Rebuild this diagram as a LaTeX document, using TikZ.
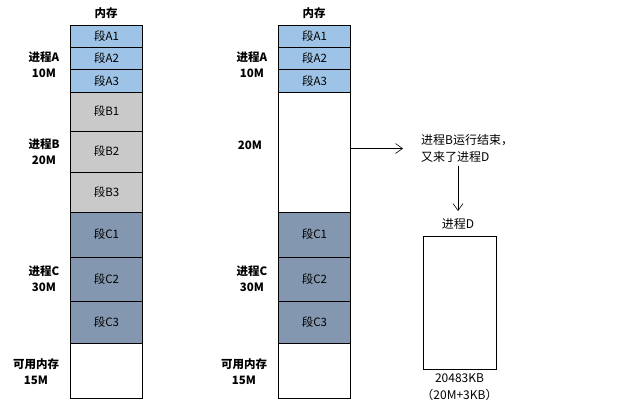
\documentclass[tikz,border=0pt]{standalone}
\usepackage{fontspec}
\setmainfont{Noto Sans CJK SC}
\usetikzlibrary{positioning, arrows.meta}
\definecolor{segblue}{HTML}{9DC3E6}
\definecolor{seggray}{HTML}{C9C9C9}
\definecolor{segslate}{HTML}{8497B0}
\begin{document}
\begin{tikzpicture}[x=1pt, y=-1pt,
  seg/.style={draw, line width=0.8pt, minimum width=72pt, inner sep=0pt,
              font=\fontsize{11.5}{13}\selectfont},
  segA/.style={seg, fill=segblue},
  segB/.style={seg, fill=seggray},
  segC/.style={seg, fill=segslate},
  segfree/.style={seg, fill=white},
  proc/.style={align=center, font=\fontsize{11.5}{16}\selectfont\bfseries},
  note/.style={font=\fontsize{12}{17}\selectfont},
  conn/.style={-{Straight Barb[length=7pt, width=10pt]}, line width=0.6pt}
]
  \useasboundingbox (0,0) rectangle (618,408);

  % Memoire avant
  \node[segA, minimum height=22pt]   (la1) at (106.5,36)    {段A1};
  \node[segA, minimum height=22.5pt] (la2) at (106.5,58.25) {段A2};
  \node[segA, minimum height=22.5pt] (la3) at (106.5,80.75) {段A3};
  \node[segB, minimum height=39pt]   (lb1) at (106.5,111.5) {段B1};
  \node[segB, minimum height=41pt]   (lb2) at (106.5,151.5) {段B2};
  \node[segB, minimum height=40pt]   (lb3) at (106.5,192)   {段B3};
  \node[segC, minimum height=45pt]   (lc1) at (106.5,234.5) {段C1};
  \node[segC, minimum height=44pt]   (lc2) at (106.5,279)   {段C2};
  \node[segC, minimum height=42pt]   (lc3) at (106.5,322)   {段C3};
  \node[segfree, minimum height=55pt] (lfree) at (106.5,370.5) {};

  \node[proc] (lmem) at (106,13)  {内存};
  \node[proc] (lpa)  at (44,64.5) {进程A\\10M};
  \node[proc] (lpb)  at (44,152)  {进程B\\20M};
  \node[proc] (lpc)  at (44,279)  {进程C\\30M};
  \node[proc] (lpf)  at (36,372)  {可用内存\\15M};

  % Memoire apres
  \node[segA, minimum height=22pt]   (ra1) at (314.5,36)    {段A1};
  \node[segA, minimum height=22.5pt] (ra2) at (314.5,58.25) {段A2};
  \node[segA, minimum height=22.5pt] (ra3) at (314.5,80.75) {段A3};
  \node[segfree, minimum height=120pt] (rhole) at (314.5,152) {};
  \node[segC, minimum height=45pt]   (rc1) at (314.5,234.5) {段C1};
  \node[segC, minimum height=44pt]   (rc2) at (314.5,279)   {段C2};
  \node[segC, minimum height=42pt]   (rc3) at (314.5,322)   {段C3};
  \node[segfree, minimum height=55pt] (rfree) at (314.5,370.5) {};

  \node[proc] (rmem) at (314,13)   {内存};
  \node[proc] (rpa)  at (252,64.5) {进程A\\10M};
  \node[proc] (rpb)  at (250,145)  {20M};
  \node[proc] (rpc)  at (252,279)  {进程C\\30M};
  \node[proc] (rpf)  at (244,372)  {可用内存\\15M};

  % Processus D
  \node[note, align=left, anchor=west, inner sep=0pt] (msg) at (421,148.5)
    {进程B运行结束，\\又来了进程D};
  \node[note] (dname) at (458,224) {进程D};
  \node[seg, minimum width=73pt, minimum height=133pt, fill=white] (dbox)
    at (459.5,302.5) {};
  \node[note, align=center, below=2pt of dbox, inner sep=2pt] (dsize)
    {20483KB\\（20M+3KB）};

  \draw[conn] (rhole.east |- msg.west) -- ([xshift=-18pt]msg.west);
  \draw[conn] ([yshift=-3pt]dname.north |- msg.south) -- ([yshift=4pt]dname.north);
\end{tikzpicture}
\end{document}
